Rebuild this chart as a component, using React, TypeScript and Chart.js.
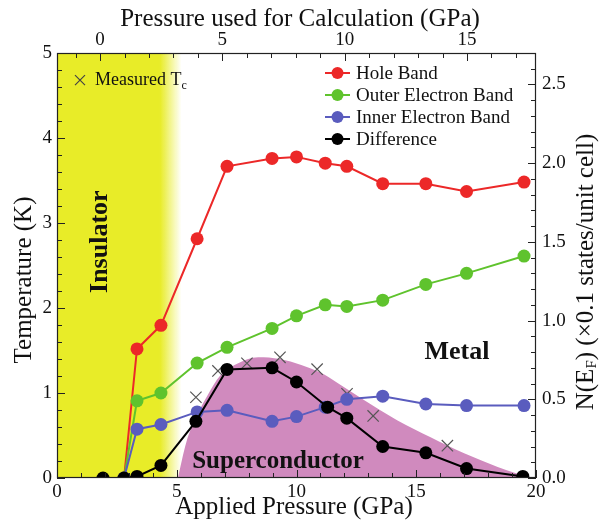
import { useEffect, useRef } from 'react';
import { Chart, registerables } from 'chart.js';

Chart.register(...registerables);

const FONT = '"Liberation Serif", "Times New Roman", serif';

// ---- data ----
const bandPressures = [2.8, 3.34, 4.34, 5.85, 7.1, 8.98, 10.0, 11.2, 12.1, 13.6, 15.4, 17.1, 19.5];
const holeBand = [0, 0.82, 0.97, 1.52, 1.98, 2.03, 2.04, 2.0, 1.98, 1.87, 1.87, 1.82, 1.88];
const outerElectronBand = [0, 0.49, 0.54, 0.73, 0.83, 0.95, 1.03, 1.1, 1.09, 1.13, 1.23, 1.3, 1.41];
const innerElectronBand = [0, 0.31, 0.34, 0.42, 0.43, 0.36, 0.39, 0.45, 0.5, 0.52, 0.47, 0.46, 0.46];

const diffPressures = [1.92, 2.8, 3.34, 4.34, 5.8, 7.1, 8.98, 10.0, 11.3, 12.1, 13.6, 15.4, 17.1, 19.45];
const difference = [0, 0, 0.01, 0.08, 0.36, 0.69, 0.7, 0.61, 0.45, 0.38, 0.2, 0.16, 0.06, 0.01];

const tcPressures = [5.8, 6.72, 7.93, 9.31, 10.86, 12.11, 13.2, 16.3];
const measuredTc = [0.95, 1.26, 1.35, 1.42, 1.28, 0.99, 0.73, 0.38];

const domePressures = [5.05, 5.4, 5.85, 6.3, 6.8, 7.5, 8.4, 9.3, 10.2, 11.0, 11.7, 12.8, 14.2, 15.6, 17.0, 18.4, 19.8];
const domeTc = [0, 0.42, 0.74, 0.98, 1.2, 1.34, 1.42, 1.4, 1.33, 1.24, 1.12, 0.92, 0.68, 0.48, 0.29, 0.13, 0];

// insulator region (applied pressure): solid until fadeStart, fades out by fadeEnd
const insulatorRange = [0, 4.3, 5.2];

const xTickLabels = [0, 5, 10, 15, 20];
const topTickLabels = [0, 5, 10, 15];
const leftTickLabels = [0, 1, 2, 3, 4, 5];
const rightTickLabels = [0, 0.5, 1, 1.5, 2, 2.5];

const seriesNames = ['Hole Band', 'Outer Electron Band', 'Inner Electron Band', 'Difference'];
const seriesColors = ['rgb(236,40,40)', 'rgb(95,195,45)', 'rgb(90,92,190)', 'rgb(0,0,0)'];

const pairs = (xs: number[], ys: number[]) => xs.map((x, i) => ({ x, y: ys[i] }));
const inList = (v: number, list: number[]) => list.some((l) => Math.abs(l - v) < 1e-6);

function drawTicks(ctx: CanvasRenderingContext2D, scale: any, side: string) {
  const ca = scale.chart.chartArea;
  ctx.save();
  ctx.strokeStyle = '#222';
  ctx.lineWidth = 1;
  for (const t of scale.ticks) {
    const lab = t.label == null ? '' : String(t.label);
    const len = lab !== '' ? 8 : 5;
    const p = Math.round(scale.getPixelForValue(t.value)) + 0.5;
    ctx.beginPath();
    if (side === 'bottom') { ctx.moveTo(p, ca.bottom); ctx.lineTo(p, ca.bottom - len); }
    if (side === 'top') { ctx.moveTo(p, ca.top); ctx.lineTo(p, ca.top + len); }
    if (side === 'left') { ctx.moveTo(ca.left, p); ctx.lineTo(ca.left + len, p); }
    if (side === 'right') { ctx.moveTo(ca.right, p); ctx.lineTo(ca.right - len, p); }
    ctx.stroke();
  }
  ctx.restore();
}

function drawCross(ctx: CanvasRenderingContext2D, x: number, y: number, r: number) {
  ctx.beginPath();
  ctx.moveTo(x - r, y - r); ctx.lineTo(x + r, y + r);
  ctx.moveTo(x - r, y + r); ctx.lineTo(x + r, y - r);
  ctx.stroke();
}

const overlayPlugin = {
  id: 'overlay',
  beforeDatasetsDraw(chart: any) {
    const { ctx, chartArea: ca, scales } = chart;
    const x = scales.x;
    const x0 = x.getPixelForValue(insulatorRange[0]);
    const xs = x.getPixelForValue(insulatorRange[1]);
    const x1 = x.getPixelForValue(insulatorRange[2]);
    ctx.save();
    ctx.fillStyle = 'rgb(232,236,40)';
    ctx.fillRect(x0, ca.top, xs - x0, ca.bottom - ca.top);
    const g = ctx.createLinearGradient(xs, 0, x1, 0);
    g.addColorStop(0, 'rgba(232,236,40,1)');
    g.addColorStop(1, 'rgba(232,236,40,0)');
    ctx.fillStyle = g;
    ctx.fillRect(xs, ca.top, x1 - xs, ca.bottom - ca.top);
    ctx.restore();
  },
  afterDatasetsDraw(chart: any) {
    const { ctx, chartArea: ca, scales } = chart;
    ctx.save();
    // frame
    ctx.strokeStyle = '#222';
    ctx.lineWidth = 1.2;
    ctx.strokeRect(ca.left + 0.5, ca.top + 0.5, ca.right - ca.left - 1, ca.bottom - ca.top - 1);
    drawTicks(ctx, scales.x, 'bottom');
    drawTicks(ctx, scales.x2, 'top');
    drawTicks(ctx, scales.y, 'left');
    drawTicks(ctx, scales.y2, 'right');

    // region labels
    ctx.fillStyle = '#111';
    ctx.textAlign = 'center';
    ctx.textBaseline = 'middle';
    ctx.font = `bold 26px ${FONT}`;
    ctx.fillText('Metal', scales.x.getPixelForValue(16.7), scales.y.getPixelForValue(1.48));
    ctx.font = `bold 25px ${FONT}`;
    ctx.fillText('Superconductor', scales.x.getPixelForValue(9.23), scales.y.getPixelForValue(0.19));
    ctx.save();
    ctx.translate(scales.x.getPixelForValue(1.8), scales.y.getPixelForValue(2.78));
    ctx.rotate(-Math.PI / 2);
    ctx.font = `bold 26px ${FONT}`;
    ctx.fillText('Insulator', 0, 0);
    ctx.restore();

    // measured Tc key
    const mx = scales.x.getPixelForValue(0.96);
    const my = scales.y.getPixelForValue(4.68);
    ctx.strokeStyle = '#444';
    ctx.lineWidth = 1.2;
    drawCross(ctx, mx, my, 5);
    ctx.textAlign = 'left';
    ctx.font = `18px ${FONT}`;
    ctx.fillStyle = '#111';
    ctx.fillText('Measured T', mx + 15, my);
    const w = ctx.measureText('Measured T').width;
    ctx.font = `12px ${FONT}`;
    ctx.fillText('c', mx + 15 + w, my + 6);

    // legend
    const lx = ca.left + 268;
    let ly = ca.top + 20;
    seriesNames.forEach((name, i) => {
      ctx.strokeStyle = seriesColors[i];
      ctx.fillStyle = seriesColors[i];
      ctx.lineWidth = 2;
      ctx.beginPath();
      ctx.moveTo(lx, ly); ctx.lineTo(lx + 25, ly); ctx.stroke();
      ctx.beginPath();
      ctx.arc(lx + 12.5, ly, 6, 0, Math.PI * 2);
      ctx.fill();
      ctx.fillStyle = '#111';
      ctx.font = `19px ${FONT}`;
      ctx.textAlign = 'left';
      ctx.textBaseline = 'middle';
      ctx.fillText(name, lx + 31, ly + 1);
      ly += 22;
    });

    // axis titles
    ctx.fillStyle = '#111';
    ctx.font = `25px ${FONT}`;
    ctx.textAlign = 'center';
    ctx.textBaseline = 'middle';
    ctx.fillText('Pressure used for Calculation (GPa)', 300, 19);
    ctx.fillText('Applied Pressure (GPa)', 294, 507);
    ctx.save();
    ctx.translate(24, 280);
    ctx.rotate(-Math.PI / 2);
    ctx.fillText('Temperature (K)', 0, 0);
    ctx.restore();

    // right title with subscript
    ctx.save();
    ctx.translate(586, 272);
    ctx.rotate(-Math.PI / 2);
    const big = `25px ${FONT}`;
    const small = `15px ${FONT}`;
    const parts: [string, string, number][] = [
      ['N(E', big, 0],
      ['F', small, 6],
      [') (\u00d70.1 states/unit cell)', big, 0],
    ];
    let total = 0;
    for (const [s, f] of parts) { ctx.font = f; total += ctx.measureText(s).width; }
    let cx = -total / 2;
    ctx.textAlign = 'left';
    for (const [s, f, dy] of parts) {
      ctx.font = f;
      ctx.fillText(s, cx, dy);
      cx += ctx.measureText(s).width;
    }
    ctx.restore();
    ctx.restore();
  },
};

const tickFont = { family: FONT, size: 19 };

export default function App() {
  const ref = useRef<HTMLCanvasElement>(null);
  useEffect(() => {
    document.body.style.margin = '0';
    const canvas = ref.current!;
    const bandDs = (i: number, data: number[], order: number) => ({
      label: seriesNames[i],
      data: pairs(bandPressures, data),
      yAxisID: 'y2',
      borderColor: seriesColors[i],
      backgroundColor: seriesColors[i],
      pointBackgroundColor: seriesColors[i],
      pointBorderColor: seriesColors[i],
      borderWidth: 2,
      pointRadius: 6.5,
      pointBorderWidth: 0,
      tension: 0,
      fill: false,
      order,
    });
    const chart = new Chart(canvas, {
      type: 'line',
      data: {
        datasets: [
          {
            label: 'Superconductor',
            data: pairs(domePressures, domeTc),
            yAxisID: 'y',
            borderWidth: 0,
            borderColor: 'rgba(0,0,0,0)',
            backgroundColor: 'rgb(208,138,190)',
            pointRadius: 0,
            fill: 'origin',
            cubicInterpolationMode: 'monotone',
            tension: 0.4,
            order: 10,
          } as any,
          {
            label: 'Measured Tc',
            data: pairs(tcPressures, measuredTc),
            yAxisID: 'y',
            showLine: false,
            pointStyle: 'crossRot',
            pointRadius: 8,
            pointBorderColor: '#555',
            pointBorderWidth: 1.2,
            borderColor: '#555',
            order: 8,
          } as any,
          bandDs(0, holeBand, 4),
          bandDs(1, outerElectronBand, 3),
          bandDs(2, innerElectronBand, 2),
          {
            ...bandDs(3, difference, 1),
            data: pairs(diffPressures, difference),
          },
        ],
      },
      options: {
        responsive: false,
        animation: false,
        layout: { padding: 0 },
        plugins: { legend: { display: false }, tooltip: { enabled: false } },
        scales: {
          x: {
            type: 'linear',
            position: 'bottom',
            min: 0,
            max: 20,
            grid: { display: false, drawTicks: false },
            border: { display: false },
            ticks: {
              stepSize: 1,
              autoSkip: false,
              maxRotation: 0,
              padding: 3,
              color: '#111',
              font: tickFont,
              callback: (v: any) => (inList(Number(v), xTickLabels) ? String(v) : ''),
            },
            afterFit: (s: any) => { s.height = 44; },
          },
          x2: {
            type: 'linear',
            position: 'top',
            min: -1.76,
            max: 17.82,
            grid: { display: false, drawTicks: false },
            border: { display: false },
            ticks: {
              stepSize: 1,
              includeBounds: false,
              autoSkip: false,
              maxRotation: 0,
              padding: 2,
              color: '#111',
              font: tickFont,
              callback: (v: any) => (inList(Number(v), topTickLabels) ? String(v) : ''),
            },
            afterFit: (s: any) => { s.height = 53; },
          },
          y: {
            type: 'linear',
            position: 'left',
            min: 0,
            max: 5,
            grid: { display: false, drawTicks: false },
            border: { display: false },
            ticks: {
              stepSize: 0.2,
              autoSkip: false,
              padding: 5,
              color: '#111',
              font: tickFont,
              callback: (v: any) => (inList(Number(v), leftTickLabels) ? String(Math.round(Number(v))) : ''),
            },
            afterFit: (s: any) => { s.width = 57; },
          },
          y2: {
            type: 'linear',
            position: 'right',
            min: 0,
            max: 2.7,
            grid: { display: false, drawTicks: false },
            border: { display: false },
            ticks: {
              stepSize: 0.1,
              includeBounds: false,
              autoSkip: false,
              padding: 6,
              color: '#111',
              font: tickFont,
              callback: (v: any) => (inList(Number(v), rightTickLabels) ? Number(v).toFixed(1) : ''),
            },
            afterFit: (s: any) => { s.width = 64; },
          },
        },
      } as any,
      plugins: [overlayPlugin],
    });
    return () => chart.destroy();
  }, []);
  return (
    <div style={{ position: 'fixed', left: 0, top: 0, width: 600, height: 522, background: '#fff' }}>
      <canvas ref={ref} width={600} height={522} style={{ width: 600, height: 522, display: 'block' }} />
    </div>
  );
}
